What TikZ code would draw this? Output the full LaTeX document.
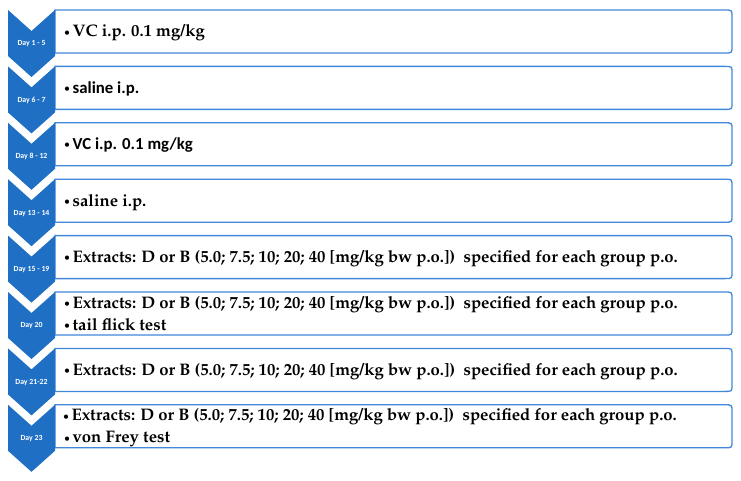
\documentclass[tikz,border=0pt]{standalone}
\usepackage[T1,TU]{fontenc}
\usepackage{fontspec}
\newfontfamily\calibri{Carlito}
\newcommand\palb{\fontencoding{T1}\fontfamily{ppl}\fontseries{b}\fontshape{n}\fontsize{16.7}{19}\selectfont}
\newcommand\calb{\calibri\bfseries\fontsize{16.8}{19}\selectfont}
\newcommand\bul{{\calibri\fontsize{12}{14}\selectfont\raisebox{0.8pt}{•}}\hspace{2.5pt}}
\definecolor{chevblue}{RGB}{31,111,197}
\definecolor{boxblue}{RGB}{66,136,218}
\tikzset{
  boxline/.style={draw=boxblue, line width=1.3pt, fill=white},
  chev/.style={fill=chevblue},
  daylab/.style={text=white, font=\calibri\bfseries\fontsize{7.8}{9}\selectfont, inner sep=0pt},
  txt/.style={anchor=base west, inner sep=0pt, text=black}
}
\begin{document}
\begin{tikzpicture}[x=1pt,y=-1pt]
\useasboundingbox (0,0) rectangle (741,481);
\fill[white] (0,0) rectangle (741,481);
\foreach \lab [count=\i from 0] in {Day 1 - 5, Day 6 - 7, Day 8 - 12, Day 13 - 14, Day 15 - 19, Day 20, Day 21-22, Day 23} {
  \pgfmathsetmacro\t{10+56.4*\i}
  \coordinate (r\i) at (0,\t);
  \draw[boxline] (55,\t) -- (725,\t) .. controls (732,\t) .. (732,\t+7)
     -- (732,\t+36) .. controls (732,\t+43) .. (725,\t+43) -- (55,\t+43) -- cycle;
  \fill[chev] (8,\t) -- (31.5,\t+21) -- (55,\t) -- (55,\t+46) -- (31.5,\t+67) -- (8,\t+46) -- cycle;
  \node[daylab] (day\i) at (31.5,\t+34) {\lab};
}
\node[txt] (t0) at ([shift={(64,27)}]r0) {\bul\palb VC i.p. 0.1 mg/kg};
\node[txt] (t1) at ([shift={(64,27)}]r1) {\bul\calb saline i.p.};
\node[txt] (t2) at ([shift={(64,27)}]r2) {\bul\calb VC i.p. 0.1 mg/kg};
\node[txt] (t3) at ([shift={(64,27)}]r3) {\bul\palb saline i.p.};
\node[txt] (t4) at ([shift={(64,27)}]r4) {\bul\palb Extracts: D or B (5.0; 7.5; 10; 20; 40 [mg/kg bw p.o.])\ \ specified for each group p.o.};
\node[txt] (t5a) at ([shift={(64,16)}]r5) {\bul\palb Extracts: D or B (5.0; 7.5; 10; 20; 40 [mg/kg bw p.o.])\ \ specified for each group p.o.};
\node[txt] (t5b) at ([shift={(64,38)}]r5) {\bul\palb tail flick test};
\node[txt] (t6) at ([shift={(64,27)}]r6) {\bul\palb Extracts: D or B (5.0; 7.5; 10; 20; 40 [mg/kg bw p.o.])\ \ specified for each group p.o.};
\node[txt] (t7a) at ([shift={(63,16)}]r7) {\bul\palb Extracts: D or B (5.0; 7.5; 10; 20; 40 [mg/kg bw p.o.])\ \ specified for each group p.o.};
\node[txt] (t7b) at ([shift={(64,38)}]r7) {\bul\palb von Frey test};
\end{tikzpicture}
\end{document}
